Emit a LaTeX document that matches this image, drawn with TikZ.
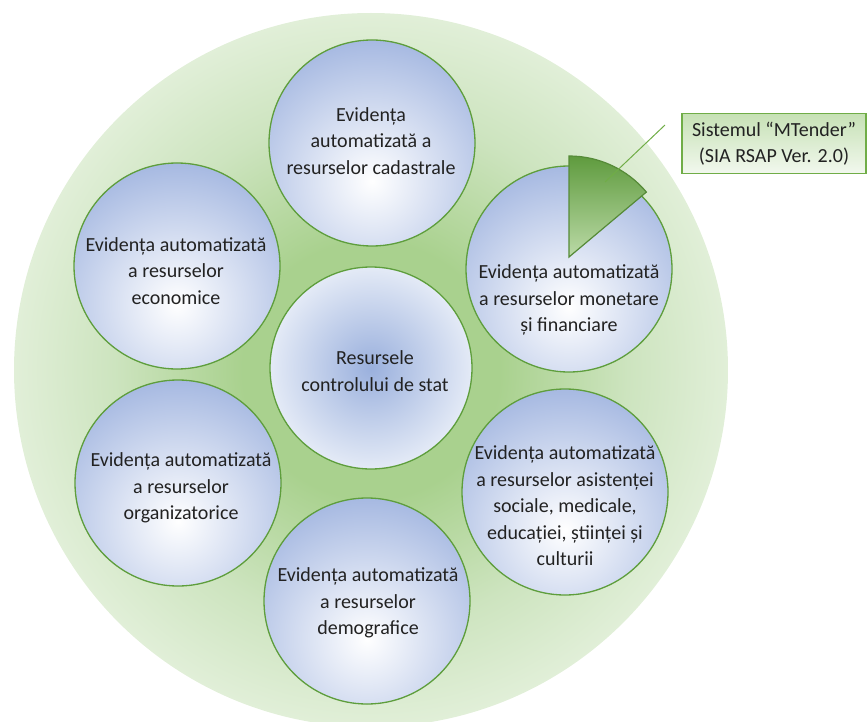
\documentclass[tikz,border=0pt]{standalone}
\usepackage{fontspec}
\setmainfont{Carlito}
\definecolor{cblue}{HTML}{A5B8E1}
\definecolor{cblueC}{HTML}{9AB0DD}
\definecolor{cblueL}{HTML}{E6ECF7}
\definecolor{gin}{HTML}{A9D18E}
\definecolor{gmid}{HTML}{CDE4BF}
\definecolor{gout}{HTML}{E1EFD8}
\definecolor{cgreen}{HTML}{5E9E3C}
\definecolor{wdark}{HTML}{5F9B3E}
\definecolor{wlight}{HTML}{BBDAA7}
\definecolor{bxtop}{HTML}{C6E1B5}
\definecolor{bxbot}{HTML}{F2F8EE}
\definecolor{bxline}{HTML}{70AD47}
\definecolor{tcol}{HTML}{222222}
\pgfdeclareradialshading{greenbg}{\pgfpoint{0bp}{0bp}}{color(0bp)=(gin); color(9bp)=(gin); color(18bp)=(gmid); color(25bp)=(gout); color(50bp)=(gout)}
\begin{document}
\begin{tikzpicture}[x=1pt,y=-1pt,
  bigc/.style={circle, minimum size=714pt, inner sep=0pt, shading=greenbg, draw=none},
  smallc/.style={circle, minimum size=206pt, inner sep=0pt, draw=cgreen, line width=1.3pt,
    path picture={\fill[inner color=white, outer color=cblue] ([yshift=-38pt]path picture bounding box.center) circle (143pt);}},
  centc/.style={circle, minimum size=202pt, inner sep=0pt, draw=cgreen, line width=1.3pt,
    path picture={\fill[inner color=cblueC, outer color=cblueL] (path picture bounding box.center) circle (104pt);}},
  txt/.style={align=center, text=tcol, font=\fontsize{20}{26.5}\selectfont, inner sep=0pt},
  wedgestyle/.style={draw=wdark!90!black, line width=1.2pt, top color=wdark, bottom color=wlight},
  cline/.style={draw=bxline, line width=1pt},
  calloutbox/.style={draw=bxline, line width=1.2pt, top color=bxtop, bottom color=bxbot, align=center, text=tcol, font=\fontsize{20}{26.5}\selectfont, minimum width=184pt, minimum height=60pt, inner sep=0pt}
]
\useasboundingbox (0,0) rectangle (867,722);
\node[bigc] (bg) at (371,370) {};
% circles
\node[smallc] (ctop) at (372,143) {};
\node[smallc] (cul) at (177,266) {};
\node[smallc] (cur) at (569,269) {};
\node[smallc] (cll) at (178,483) {};
\node[smallc] (clr) at (565,492) {};
\node[smallc] (cbot) at (367,601) {};
\node[centc] (cc) at (371,368) {};
% wedge
\coordinate (wa) at (569,257);
\filldraw[wedgestyle] (wa) -- ++(-40:101) arc[start angle=-40, end angle=-90, radius=101] -- cycle;
% texts
\node[txt] (ttop) at (371,141) {Evidența\\automatizată a\\resurselor cadastrale};
\node[txt] (tul) at (176,271) {Evidența automatizată\\a resurselor\\economice};
\node[txt] (tc) at (375,371) {Resursele\\controlului de stat};
\node[txt] (tur) at (569,300) {Evidența automatizată\\a resurselor monetare\\și financiare};
\node[txt] (tll) at (181,488) {Evidența automatizată\\a resurselor\\organizatorice};
\node[txt] (tlr) at (565,506) {Evidența automatizată\\a resurselor asistenței\\sociale, medicale,\\educației, științei și\\culturii};
\node[txt] (tbot) at (368,603) {Evidența automatizată\\a resurselor\\demografice};
% callout
\coordinate (cl1) at (605,182);
\coordinate (cl2) at (665,125);
\draw[cline] (cl1) -- (cl2);
\node[calloutbox] (mt) at (774,143.5) {Sistemul “MTender”\\(SIA RSAP Ver. 2.0)};
\end{tikzpicture}
\end{document}
